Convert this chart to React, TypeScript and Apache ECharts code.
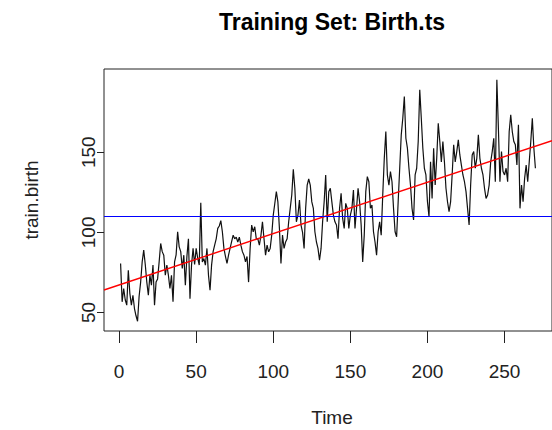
import React, { useEffect, useRef } from "react";
import * as echarts from "echarts";

// Monthly births training series (index 1..270)
const births: number[] = [
  80.6, 56.7, 65, 58, 54.6, 76.4, 62, 54.6, 60.8, 52.5,
  48, 44.6, 60, 69, 81.6, 88.9, 80, 69, 60.8, 73.3,
  67.1, 79.6, 54.6, 69, 71, 81.6, 93.1, 88, 85.8, 73.3,
  79.6, 73.3, 65, 73.3, 56.7, 81.6, 86, 100.4, 91, 88,
  77.5, 85.8, 67.1, 85, 96, 58.7, 79.6, 90, 80, 90,
  84, 79.6, 118.5, 81.6, 83.7, 79.6, 90, 73.3, 64, 79.6,
  88, 92, 96, 102.5, 104, 107.3, 100.4, 90, 85, 80.6,
  85.8, 90, 94.2, 98.3, 96, 97, 94, 97, 92, 88,
  85.8, 81.6, 85, 69, 90, 104.6, 100.4, 103.5, 96, 96,
  92, 98, 106.6, 96, 85.8, 92, 87.9, 90, 98.3, 110.8,
  118, 125.4, 119, 102.5, 80.6, 98.3, 90, 94, 96, 106.6,
  115, 123.3, 139.4, 127.5, 106.6, 110.8, 120.2, 104.6, 100, 90,
  115, 129.5, 133.3, 129.5, 119, 115, 100.4, 94, 90, 82.7,
  90, 106.6, 119, 135.8, 106.6, 125.4, 127.5, 119, 110.8, 106.6,
  104.6, 96, 115, 124.4, 108.7, 102.5, 118.1, 115, 102.5, 110.8,
  115, 126.4, 102.5, 115, 127.5, 119, 104.6, 81.6, 98.3, 125.4,
  134.8, 131.6, 115, 117, 100.4, 94, 85.8, 100.4, 106.6, 98.3,
  123.3, 146.2, 162.9, 135.8, 129.5, 137.9, 131.6, 115, 100.4, 97.3,
  119.1, 140, 160.8, 171.2, 184.8, 158.7, 152.5, 140, 129.5, 115,
  107.7, 135.8, 140, 156.7, 188.9, 171.2, 152.5, 140, 135.8, 119.1,
  109.8, 144, 121.2, 152.5, 129.5, 146.2, 168.1, 156.7, 144, 156.7,
  144, 127.5, 119.1, 112.9, 119, 135.8, 154.6, 144, 150.4, 157.7,
  148.3, 142, 135.8, 131.6, 125.4, 115, 104.6, 129.5, 148.3, 150.4,
  140, 146.2, 160.8, 146.2, 140, 135.8, 127.5, 121.2, 123.3, 129.5,
  144, 150.4, 158.7, 131.6, 195.2, 165, 131.6, 150.4, 137.9, 135.8,
  140, 131.6, 162.9, 173.3, 162.9, 156.7, 154.6, 142, 167.1, 115,
  129.5, 119.1, 133.7, 142, 131.6, 144, 156.7, 171.2, 152.5, 140,
];

const xTicks = [0, 50, 100, 150, 200, 250];
const yTicks = [50, 100, 150];
const meanLevel = [110.2]; // blue horizontal reference
const trendIntercept = 67.2; // red regression line
const trendSlope = 0.3206;
const titleText = "Training Set: Birth.ts";
const xName = "Time";
const yName = "train.birth";

const X_MIN = -9.76;
const X_MAX = 280.76;
const Y_MIN = 38.5;
const Y_MAX = 201.9;

const FONT = "'Liberation Sans', Arial, sans-serif";

export default function App() {
  const ref = useRef<HTMLDivElement>(null);

  useEffect(() => {
    if (!ref.current) return;
    const chart = echarts.init(ref.current, undefined, { renderer: "svg" });
    const seriesData = births.map((v, i) => [i + 1, v]);
    const trendData = [
      [X_MIN, trendIntercept + trendSlope * X_MIN],
      [X_MAX, trendIntercept + trendSlope * X_MAX],
    ];
    chart.setOption({
      animation: false,
      backgroundColor: "#fff",
      grid: {
        show: true,
        left: 104,
        top: 69,
        width: 456,
        height: 262,
        borderColor: "#222",
        borderWidth: 1,
        backgroundColor: "transparent",
      },
      xAxis: {
        type: "value",
        min: X_MIN,
        max: X_MAX,
        axisLine: { show: false, onZero: false },
        splitLine: { show: false },
        axisTick: {
          show: true,
          length: 12,
          customValues: xTicks,
          lineStyle: { color: "#222", width: 1 },
        },
        axisLabel: {
          show: true,
          customValues: xTicks,
          fontSize: 19,
          fontFamily: FONT,
          color: "#222",
          verticalAlign: "middle",
          margin: 40,
        },
      },
      yAxis: {
        type: "value",
        min: Y_MIN,
        max: Y_MAX,
        axisLine: { show: false, onZero: false },
        splitLine: { show: false },
        axisTick: {
          show: true,
          length: 7,
          customValues: yTicks,
          lineStyle: { color: "#222", width: 1 },
        },
        axisLabel: {
          show: true,
          customValues: yTicks,
          rotate: 90,
          fontSize: 19,
          fontFamily: FONT,
          color: "#222",
          align: "center",
          verticalAlign: "middle",
          margin: 16,
        },
      },
      graphic: [
        {
          type: "text",
          x: 332,
          y: 22,
          style: {
            text: titleText,
            font: `bold 23px ${FONT}`,
            fill: "#000",
            align: "center",
            verticalAlign: "middle",
          },
        },
        {
          type: "text",
          x: 332,
          y: 417,
          style: {
            text: xName,
            font: `19px ${FONT}`,
            fill: "#222",
            align: "center",
            verticalAlign: "middle",
          },
        },
        {
          type: "text",
          x: 31,
          y: 200,
          rotation: Math.PI / 2,
          style: {
            text: yName,
            font: `19px ${FONT}`,
            fill: "#222",
            align: "center",
            verticalAlign: "middle",
          },
        },
      ],
      series: [
        {
          type: "line",
          data: seriesData,
          symbol: "none",
          lineStyle: { color: "#111", width: 1.2 },
          markLine: {
            silent: true,
            symbol: "none",
            label: { show: false },
            lineStyle: { color: "#0000ff", width: 1.2, type: "solid" },
            data: meanLevel.map((v) => ({ yAxis: v })),
          },
          z: 2,
        },
        {
          type: "line",
          data: trendData,
          symbol: "none",
          lineStyle: { color: "#ff0000", width: 1.4 },
          z: 3,
        },
      ],
    });
    return () => chart.dispose();
  }, []);

  return (
    <div
      ref={ref}
      style={{ position: "fixed", left: 0, top: 0, width: 552, height: 430, background: "#fff" }}
    />
  );
}
